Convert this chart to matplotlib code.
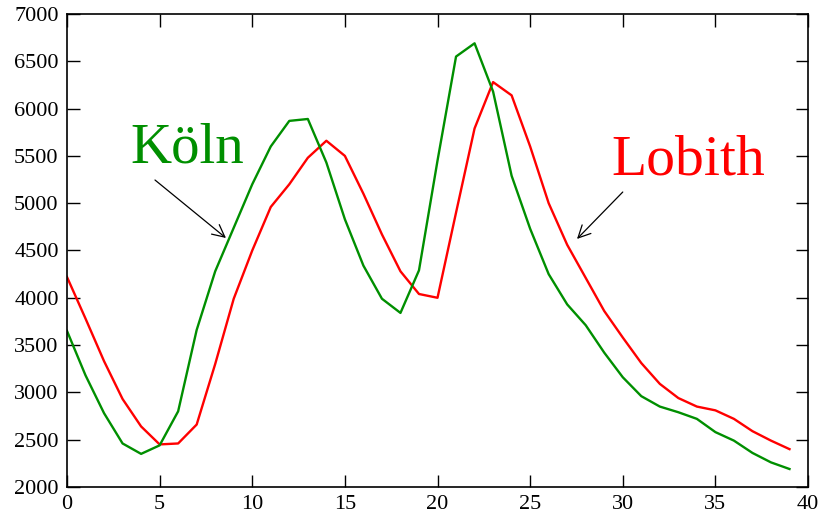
import matplotlib
matplotlib.use('Agg')
import matplotlib.pyplot as plt
import numpy as np

matplotlib.rcParams['font.family'] = ['Liberation Serif', 'DejaVu Serif']
matplotlib.rcParams['font.size'] = 16

days = list(range(40))

lobith = [4220, 3780, 3330, 2930, 2640, 2450, 2460, 2660, 3300, 3990,
          4500, 4960, 5200, 5480, 5660, 5500, 5100, 4670, 4280, 4040,
          4000, 4900, 5790, 6280, 6140, 5600, 5000, 4560, 4210, 3860,
          3580, 3310, 3090, 2940, 2850, 2810, 2720, 2590, 2490, 2400]

koeln = [3650, 3180, 2780, 2460, 2350, 2440, 2800, 3660, 4280, 4740,
         5200, 5600, 5870, 5890, 5430, 4830, 4340, 3990, 3840, 4290,
         5450, 6550, 6690, 6180, 5290, 4730, 4250, 3930, 3710, 3420,
         3160, 2960, 2850, 2790, 2720, 2580, 2490, 2360, 2260, 2190]

x_ticks = np.arange(0, 41, 5)
y_ticks = np.arange(2000, 7001, 500)


def main():
    fig = plt.figure(figsize=(8.21, 5.2), dpi=100)
    ax = fig.add_axes([0.0816, 0.0635, 0.9026, 0.9096])

    green = '#008f00'
    red = '#ff0000'

    ax.plot(days, lobith, color=red, lw=1.7)
    ax.plot(days, koeln, color=green, lw=1.7)

    ax.set_xlim(0, 40)
    ax.set_ylim(2000, 7000)
    ax.set_xticks(x_ticks)
    ax.set_yticks(y_ticks)
    ax.tick_params(direction='in', length=9, width=1, top=True, right=True,
                   pad=6)
    for s in ax.spines.values():
        s.set_linewidth(1.2)

    ax.text(3.4, 5425, 'Köln', color=green, fontsize=41)
    ax.text(29.4, 5298, 'Lobith', color=red, fontsize=41.5)

    arrow = dict(arrowstyle='->', color='black', lw=0.9,
                 mutation_scale=22, shrinkA=0, shrinkB=0)
    ax.annotate('', xy=(8.58, 4632), xytext=(4.75, 5245), arrowprops=arrow)
    ax.annotate('', xy=(27.53, 4622), xytext=(30.0, 5118), arrowprops=arrow)

    fig.savefig('out.png', dpi=100)


if __name__ == '__main__':
    main()
